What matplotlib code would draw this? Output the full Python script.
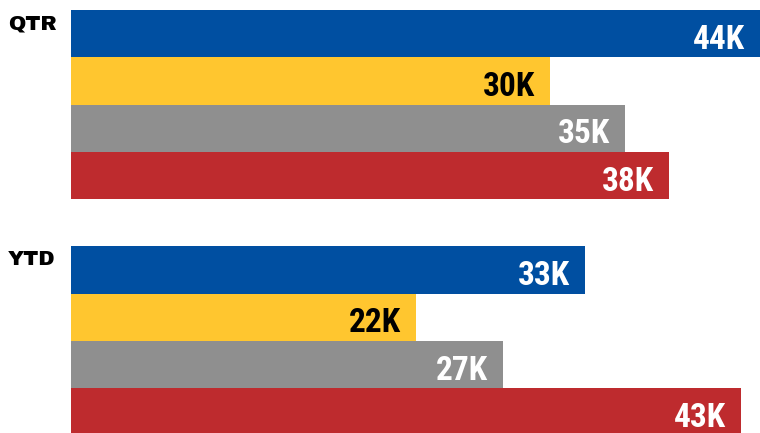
import numpy as np
import matplotlib.pyplot as plt
import matplotlib.transforms as mtransforms

GROUPS = ["QTR", "YTD"]
QTR_VALUES = [44.0, 30.6, 35.4, 38.2]
YTD_VALUES = [32.8, 22.0, 27.6, 42.8]
QTR_LABELS = ["44K", "30K", "35K", "38K"]
YTD_LABELS = ["33K", "22K", "27K", "43K"]

BAR_COLORS   = ["#004FA1", "#FFC62F", "#8F8F8F", "#BE2B2E"]
LABEL_COLORS = ["white", "black", "white", "white"]

fig = plt.figure(figsize=(7.6, 4.33), dpi=100)
ax = fig.add_axes([71 / 760, 0, 689 / 760, 1])

px_per_bar = 47.3
y_top = -0.5 - 10 / px_per_bar
ax.set_ylim(y_top + 433 / px_per_bar, y_top)
ax.set_xlim(0, 44.0)
ax.axis("off")

label_font = ["Roboto Condensed", "Archivo Narrow", "DejaVu Sans"]
group_font = ["Archivo Black", "Liberation Sans", "DejaVu Sans"]
pad = 15 / (689 / 44.0)   # ~15 px inside bar end

trans = mtransforms.blended_transform_factory(fig.transFigure, ax.transData)

for g_idx, (name, values, labels) in enumerate(
        [("QTR", QTR_VALUES, QTR_LABELS), ("YTD", YTD_VALUES, YTD_LABELS)]):
    start = g_idx * 5
    pos = np.arange(start, start + len(values))
    ax.barh(pos, values, height=1.0, color=BAR_COLORS, linewidth=0)
    for p, v, lab, lc in zip(pos, values, labels, LABEL_COLORS):
        ax.text(v - pad, p + 15 / px_per_bar, lab, ha="right", va="baseline",
                color=lc, fontsize=24, fontweight="bold", family=label_font)
    ax.text(8 / 760, start - 0.5 + 19 / px_per_bar, name, transform=trans,
            ha="left", va="baseline", fontsize=15, family=group_font)

fig.savefig("out.png", dpi=100)
